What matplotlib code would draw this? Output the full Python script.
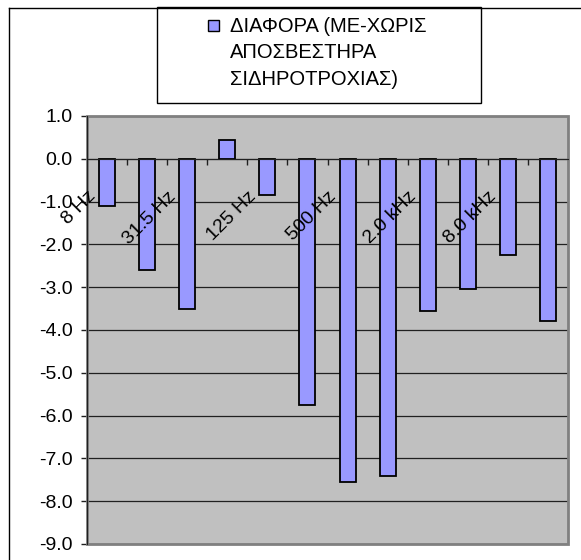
import matplotlib.pyplot as plt
from matplotlib.patches import Rectangle
from matplotlib.lines import Line2D
import numpy as np

plt.rcParams['font.family'] = ['Liberation Sans', 'DejaVu Sans']
plt.rcParams['axes.unicode_minus'] = False

# octave bands, only every second one gets a label on the axis
bands = ['8 Hz', '16 Hz', '31.5 Hz', '63 Hz', '125 Hz', '250 Hz',
         '500 Hz', '1.0 kHz', '2.0 kHz', '4.0 kHz', '8.0 kHz', '16 kHz']
diff = [-1.1, -2.6, -3.5, 0.45, -0.85, -5.75, -7.55, -7.4, -3.55, -3.05, -2.25, -3.8]
yticks = [1.0, 0.0, -1.0, -2.0, -3.0, -4.0, -5.0, -6.0, -7.0, -8.0, -9.0]
series_label = 'ΔΙΑΦΟΡΑ (ΜΕ-ΧΩΡΙΣ\nΑΠΟΣΒΕΣΤΗΡΑ\nΣΙΔΗΡΟΤΡΟΧΙΑΣ)'

W, H = 581, 560
bar_color = '#9999ff'

fig = plt.figure(figsize=(W / 100, H / 100), dpi=100)
ax = fig.add_axes([87 / W, 1 - 544 / H, (568 - 87) / W, (544 - 116) / H])
ax.set_facecolor('#c0c0c0')

x = np.arange(len(bands))
ax.bar(x, diff, width=0.4, color=bar_color, edgecolor='black', linewidth=1.3, zorder=3)

ax.set_xlim(-0.5, len(bands) - 0.5)
ax.set_ylim(-9, 1)
ax.set_yticks(yticks)
ax.set_yticklabels(['%.1f' % v for v in yticks], fontsize=14)
ax.yaxis.grid(True, color='#202020', linewidth=0.9)
ax.set_axisbelow(True)

# x axis sits on the zero line, ticks between categories
ax.spines['bottom'].set_position(('data', 0))
ax.spines['bottom'].set_zorder(4)
for s in ['top', 'right']:
    ax.spines[s].set_visible(False)
ax.spines['left'].set_color('#202020')
ax.spines['bottom'].set_color('#202020')
ax.set_xticks(np.arange(0.5, len(bands) - 1, 1))
ax.set_xticklabels([])
ax.tick_params(axis='x', direction='out', length=4.3, width=1, color='#202020')
ax.tick_params(axis='y', direction='out', length=4.3, width=1, color='#202020', pad=6)

for i in range(0, len(bands), 2):
    ax.annotate(bands[i], xy=(i, 0), xytext=(-20, -29), textcoords='offset pixels',
                rotation=45, ha='right', va='top', rotation_mode='anchor',
                fontsize=14, zorder=5)

# plot area border
ax.add_patch(Rectangle((0, 0), 1, 1, transform=ax.transAxes, fill=False,
                       edgecolor='#808080', linewidth=2, zorder=2, clip_on=False))

# chart frame (left and top edges)
fig.add_artist(Line2D([8.5 / W, 8.5 / W], [0, 1 - 7.5 / H], color='black', lw=1))
fig.add_artist(Line2D([8.5 / W, 1], [1 - 7.5 / H, 1 - 7.5 / H], color='black', lw=1))

# legend box
fig.add_artist(Rectangle((157 / W, 1 - 103 / H), (481 - 157) / W, 96 / H,
                         transform=fig.transFigure, facecolor='white',
                         edgecolor='black', linewidth=1))
fig.add_artist(Rectangle((208 / W, 1 - 31 / H), 11 / W, 11 / H,
                         transform=fig.transFigure, facecolor=bar_color,
                         edgecolor='black', linewidth=1))
leg_text = fig.text(230 / W, 1 - 17 / H, series_label, ha='left', va='top',
                    fontsize=14.5, linespacing=1.5)

fig.savefig('out.png', dpi=100)
